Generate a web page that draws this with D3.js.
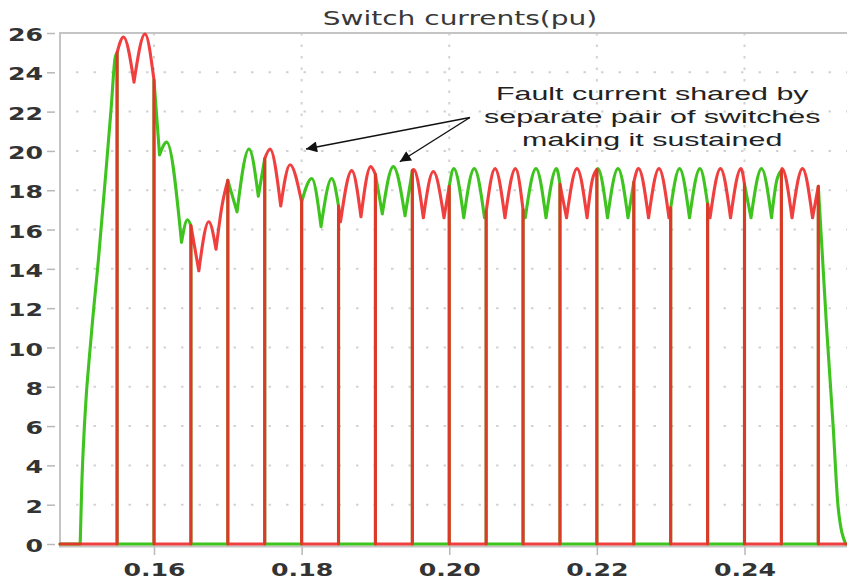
<!DOCTYPE html>
<html>
<head>
<meta charset="utf-8">
<script src="https://cdn.jsdelivr.net/npm/d3@7"></script>
<style>
  html, body { margin: 0; padding: 0; background: #fff; }
  svg { display: block; }
</style>
</head>
<body>
<svg id="chart" width="847" height="581"></svg>
<script>
// ---- data -------------------------------------------------------------
// Conduction windows (s) of the two switch pairs.
const greenOn = [[0.150, 0.155], [0.160, 0.165], [0.170, 0.175], [0.180, 0.185],
                 [0.190, 0.195], [0.200, 0.205], [0.210, 0.215], [0.220, 0.225],
                 [0.230, 0.235], [0.240, 0.245], [0.250, 0.2537]];
const redOn   = [[0.155, 0.160], [0.165, 0.170], [0.175, 0.180], [0.185, 0.190],
                 [0.195, 0.200], [0.205, 0.210], [0.215, 0.220], [0.225, 0.230],
                 [0.235, 0.240], [0.245, 0.250]];

// Fault current carried by whichever pair conducts: [time s, current pu].
// Ripple peaks / cusps plus the value at every switching instant.
const faultCurrent = [
  [0.1500, 0], [0.15020, 2.8], [0.15060, 6.2], [0.15150, 10.6], [0.15250, 14.6],
  [0.15350, 19.0], [0.15420, 22.2], [0.15472, 24.7],
  [0.155, 25.0], [0.15587, 25.8], [0.15729, 23.5], [0.15878, 25.95],
  [0.160, 23.6], [0.16075, 19.8], [0.16172, 20.45], [0.16373, 15.35], [0.16454, 16.5],
  [0.165, 16.2], [0.16607, 13.9], [0.16742, 16.4], [0.16840, 15.0], [0.16921, 17.2],
  [0.170, 18.5], [0.17125, 16.9], [0.17287, 20.1], [0.17413, 17.7],
  [0.175, 19.6], [0.17572, 20.1], [0.17717, 17.2], [0.17843, 19.3],
  [0.180, 17.4], [0.18137, 18.6], [0.18263, 16.15], [0.18408, 18.6],
  [0.185, 17.2], [0.18527, 16.4], [0.18679, 19.0], [0.18804, 16.65], [0.18936, 19.2],
  [0.190, 18.8], [0.19093, 16.8], [0.19242, 19.2], [0.19401, 16.7],
  [0.195, 19.0], [0.19518, 19.05], [0.19649, 16.6], [0.19784, 18.95], [0.19929, 16.6],
  [0.200, 18.2], [0.20061, 19.1], [0.20197, 16.6], [0.20339, 19.1], [0.20478, 16.6],
  [0.205, 16.9], [0.20620, 19.1], [0.20755, 16.6], [0.20898, 19.1],
  [0.210, 17.0], [0.21030, 16.6], [0.21175, 19.1], [0.21311, 16.6], [0.21453, 19.1],
  [0.215, 18.3], [0.21589, 16.6], [0.21731, 19.1], [0.21867, 16.6], [0.21937, 18.5],
  [0.220, 19.05], [0.22012, 19.1], [0.22144, 16.6], [0.22286, 19.1], [0.22422, 16.6],
  [0.225, 18.4], [0.22564, 19.1], [0.22700, 16.6], [0.22842, 19.1], [0.22977, 16.6],
  [0.230, 17.1], [0.23120, 19.1], [0.23255, 16.6], [0.23397, 19.1],
  [0.235, 17.3], [0.23533, 16.6], [0.23675, 19.1], [0.23811, 16.6], [0.23953, 19.1],
  [0.240, 18.3], [0.24088, 16.6], [0.24231, 19.1], [0.24366, 16.6], [0.24437, 18.5],
  [0.245, 19.0], [0.24508, 19.1], [0.24644, 16.6], [0.24786, 19.1], [0.24922, 16.6],
  [0.250, 18.2], [0.25111, 11.1], [0.25201, 6.0], [0.25268, 1.9], [0.2537, 0]
];

const xTicks = [0.16, 0.18, 0.20, 0.22, 0.24];
const xTickLabels = ["0.16", "0.18", "0.20", "0.22", "0.24"];
const yTicks = [0, 2, 4, 6, 8, 10, 12, 14, 16, 18, 20, 22, 24, 26];

const titleText = "Switch currents(pu)";
const noteLines = ["Fault current shared by", "separate pair of switches", "making it sustained"];
// annotation anchor and arrow tips in data units [s, pu]
const noteAnchor = [0.2275, 22.6];
const arrowFrom = [0.2028, 21.7];
const arrowTips = [[0.1806, 20.1], [0.1933, 19.45]];

// ---- scales -----------------------------------------------------------
const svg = d3.select("#chart");
const x = d3.scaleLinear().domain([0.147265, 0.253887]).range([60, 847]);
const y = d3.scaleLinear().domain([0, 26]).range([544, 33]);

const GREEN = "#3fc41f", RED = "#ee2a2a", AXIS = "#c4c4c4", GRID = "#d2d2d2";

// ---- grid -------------------------------------------------------------
const grid = svg.append("g");
grid.selectAll("line.h").data(yTicks.filter(v => v > 0 && v < 26)).join("line")
  .attr("x1", 76).attr("x2", 847)
  .attr("y1", d => y(d)).attr("y2", d => y(d))
  .attr("stroke", GRID).attr("stroke-width", 2).attr("stroke-dasharray", "2.5,15");
grid.selectAll("line.v").data(xTicks).join("line")
  .attr("x1", d => x(d)).attr("x2", d => x(d))
  .attr("y1", 33).attr("y2", 544)
  .attr("stroke", GRID).attr("stroke-width", 2).attr("stroke-dasharray", "2.5,9");

// ---- frame & axes -----------------------------------------------------
svg.append("line").attr("x1", 60).attr("x2", 847).attr("y1", 33).attr("y2", 33)
  .attr("stroke", AXIS).attr("stroke-width", 2);
svg.append("line").attr("x1", 60).attr("x2", 60).attr("y1", 32).attr("y2", 547.5)
  .attr("stroke", AXIS).attr("stroke-width", 2);
svg.append("line").attr("x1", 60).attr("x2", 847).attr("y1", 546.5).attr("y2", 546.5)
  .attr("stroke", AXIS).attr("stroke-width", 2);

const stretch = 1.4;
function widen(sel, k) {
  sel.each(function () {
    const w = this.getComputedTextLength();
    d3.select(this).attr("textLength", w * k).attr("lengthAdjust", "spacingAndGlyphs");
  });
}

const yAxis = svg.append("g").attr("transform", "translate(55,0)")
  .call(d3.axisLeft(y).tickValues(yTicks).tickSize(8).tickPadding(4).tickFormat(d3.format("d")));
const xAxis = svg.append("g").attr("transform", "translate(0,547)")
  .call(d3.axisBottom(x).tickValues(xTicks).tickSize(8).tickPadding(8)
        .tickFormat((d, i) => xTickLabels[i]));
[yAxis, xAxis].forEach(g => {
  g.select(".domain").remove();
  g.selectAll(".tick line").attr("stroke", "#b8b8b8").attr("stroke-width", 1.5);
  g.selectAll(".tick text").attr("fill", "#333").attr("font-family", "DejaVu Sans, Verdana, sans-serif")
    .attr("font-size", 18).attr("font-weight", "bold");
});
yAxis.selectAll(".tick text").attr("dy", "0.42em");
xAxis.selectAll(".tick text").attr("dy", "0.71em");
widen(yAxis.selectAll(".tick text"), stretch);
widen(xAxis.selectAll(".tick text"), stretch);

// ---- switch current traces -------------------------------------------
// Samples of one switch pair: zero while blocking, fault current while conducting.
function switchSeries(windows) {
  const pts = [[x.domain()[0], 0]];
  windows.forEach(([a, b]) => {
    pts.push([a, 0]);
    faultCurrent.filter(p => p[0] >= a && p[0] <= b).forEach(p => pts.push(p));
    pts.push([b, 0]);
  });
  pts.push([x.domain()[1], 0]);
  return pts;
}

// Split into smooth runs: break at switching edges, idle stretches and ripple cusps.
function runs(pts) {
  const out = [];
  let cur = [pts[0]];
  for (let i = 1; i < pts.length; i++) {
    const p = pts[i - 1], q = pts[i], r = pts[i + 1];
    if (p[0] === q[0] || (p[1] === 0 && q[1] === 0)) {
      if (cur.length > 1) out.push(cur);
      out.push([p, q]);
      cur = [q];
      continue;
    }
    cur.push(q);
    const corner = !r || r[0] === q[0] || (q[1] <= p[1] && q[1] <= r[1]);
    if (corner) { out.push(cur); cur = [q]; }
  }
  if (cur.length > 1) out.push(cur);
  return out;
}

const line = d3.line().x(d => x(d[0])).y(d => y(d[1])).curve(d3.curveMonotoneX);
function drawTrace(windows, color, opacity) {
  svg.append("path")
    .attr("d", runs(switchSeries(windows)).map(r => line(r)).join(""))
    .attr("fill", "none").attr("stroke", color).attr("stroke-width", 3.1)
    .attr("stroke-opacity", opacity)
    .attr("stroke-linejoin", "round").attr("stroke-linecap", "round");
}
drawTrace(greenOn, GREEN, 1);
drawTrace(redOn, RED, 0.9);

// ---- title ------------------------------------------------------------
const title = svg.append("text").attr("x", 460).attr("y", 25)
  .attr("text-anchor", "middle").attr("fill", "#383838")
  .attr("font-family", "DejaVu Sans, Verdana, sans-serif").attr("font-size", 20)
  .text(titleText);
widen(title, stretch);

// ---- annotation -------------------------------------------------------
const note = svg.append("text").attr("text-anchor", "middle").attr("fill", "#222")
  .attr("font-family", "Liberation Sans, Arial, sans-serif").attr("font-size", 19);
noteLines.forEach((s, i) => {
  note.append("tspan").attr("x", x(noteAnchor[0])).attr("y", y(noteAnchor[1]) + i * 23).text(s);
});
widen(note.selectAll("tspan"), 1.6);

svg.append("defs").append("marker").attr("id", "head")
  .attr("viewBox", "0 0 10 10").attr("refX", 10).attr("refY", 5)
  .attr("markerWidth", 15).attr("markerHeight", 11).attr("markerUnits", "userSpaceOnUse")
  .attr("orient", "auto")
  .append("path").attr("d", "M0,0 L10,5 L0,10 Z").attr("fill", "#111");
svg.selectAll("line.arrow").data(arrowTips).join("line").attr("class", "arrow")
  .attr("x1", x(arrowFrom[0])).attr("y1", y(arrowFrom[1]))
  .attr("x2", d => x(d[0])).attr("y2", d => y(d[1]))
  .attr("stroke", "#111").attr("stroke-width", 1.4).attr("marker-end", "url(#head)");
</script>
</body>
</html>
